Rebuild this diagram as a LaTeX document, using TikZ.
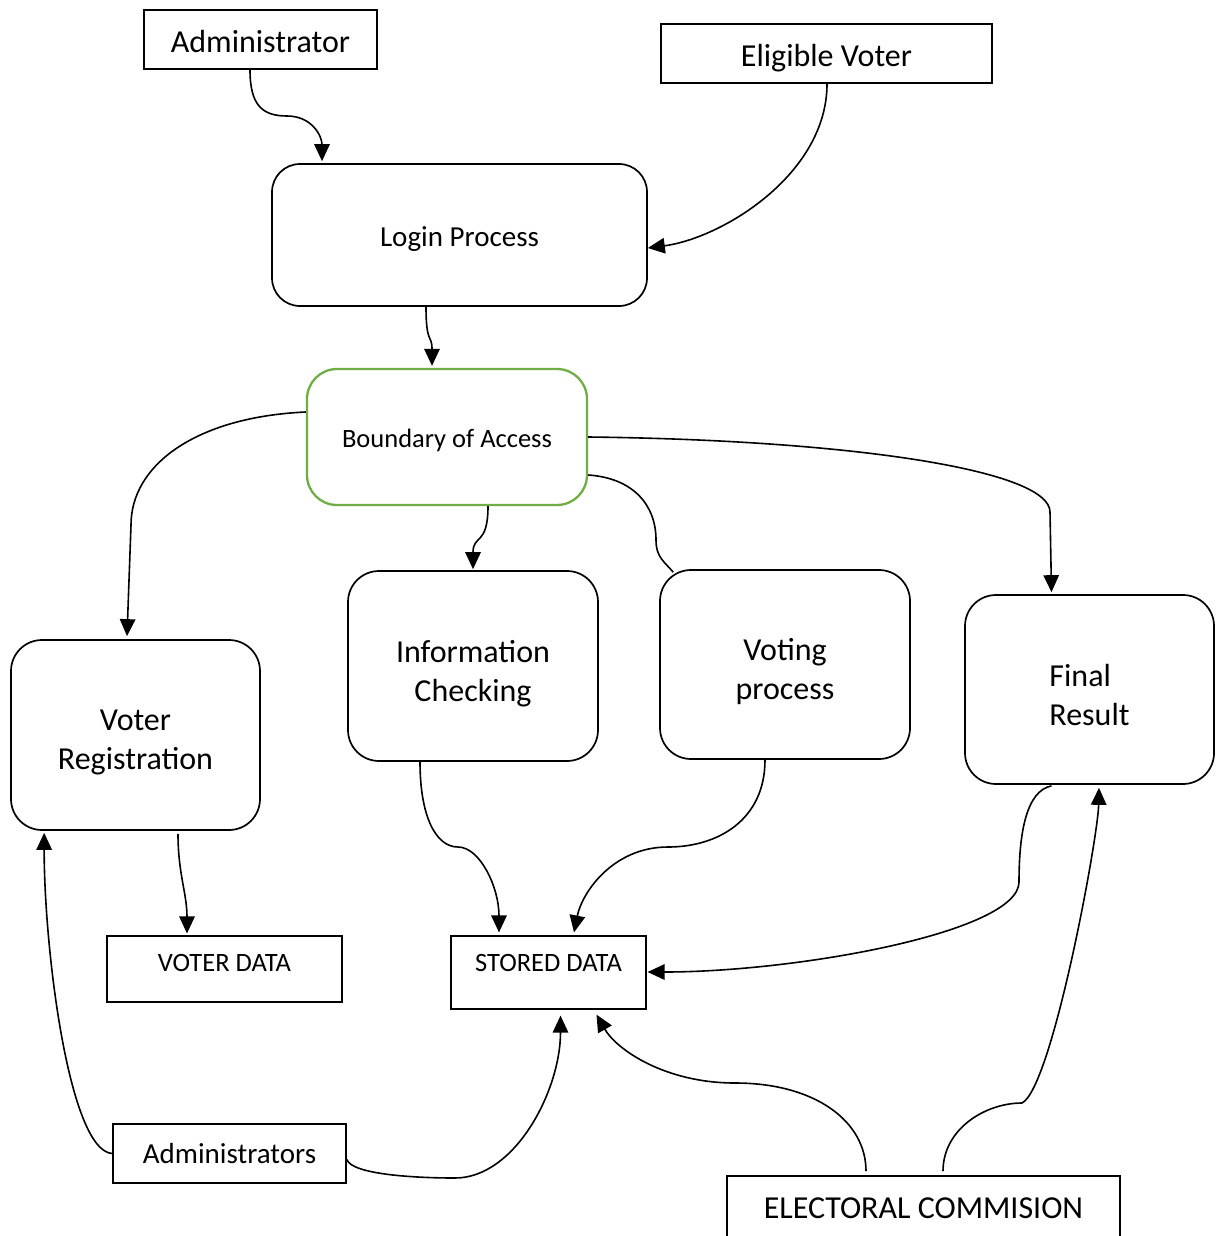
\documentclass[tikz,border=0pt]{standalone}
\usepackage{fontspec}
\setmainfont{Carlito}
\usetikzlibrary{arrows.meta,calc}

\definecolor{accessgreen}{HTML}{70AD47}

\tikzset{
  big/.style={font=\fontsize{32pt}{39pt}\selectfont},
  mid/.style={font=\fontsize{29pt}{35pt}\selectfont},
  small/.style={font=\fontsize{26.5pt}{32pt}\selectfont},
  entity/.style={draw, line width=1.7pt, inner sep=0pt},
  procbox/.style={draw, line width=1.7pt, rounded corners=31pt, inner sep=0pt},
  proctext/.style={big, align=center, inner sep=0pt},
  storebox/.style={draw, line width=1.2pt, inner sep=0pt},
  flow/.style={line width=1.6pt, -{Triangle[length=17pt,width=15.5pt]}},
  link/.style={line width=1.6pt},
}

\begin{document}
\begin{tikzpicture}[x=1pt, y=-1pt]
  \useasboundingbox (0,0) rectangle (1217,1236);
  \clip (0,0) rectangle (1217,1236);
  \fill[white] (0,0) rectangle (1217,1236);

  % external entities
  \node[entity, minimum width=233pt, minimum height=59pt,
        label={[big, inner sep=0pt, yshift=-2pt, name=admtxt]center:Administrator}] (adm) at (260.5,39.5) {};
  \node[entity, minimum width=331pt, minimum height=59pt,
        label={[big, inner sep=0pt, yshift=-5pt, name=eligtxt]center:Eligible Voter}] (elig) at (826.5,53.5) {};
  \node[entity, mid, minimum width=233pt, minimum height=59pt] (admins) at (229.5,1153.5) {Administrators};
  \node[entity, minimum width=393pt, minimum height=90pt] (ec) at (923.5,1221) {};
  \node[big] (ectxt) at (923.5,1208) {ELECTORAL COMMISION};

  % processes
  \node[draw, line width=1.7pt, rounded corners=28pt, inner sep=0pt,
        minimum width=375pt, minimum height=142pt,
        label={[mid, inner sep=0pt, yshift=-4pt, name=logintxt]center:Login Process}] (login) at (459.5,235) {};
  \node[draw=accessgreen, line width=2.3pt, rounded corners=30pt, inner sep=0pt,
        minimum width=280pt, minimum height=136pt,
        label={[small, inner sep=0pt, yshift=-3pt, name=boundtxt]center:Boundary of Access}] (bound) at (447,437) {};
  \node[procbox, minimum width=250pt, minimum height=190pt,
        label={[proctext, yshift=-8pt, name=infotxt]center:Information\\Checking}] (info) at (473,666) {};
  \node[procbox, minimum width=250pt, minimum height=189pt,
        label={[proctext, yshift=-7.5pt, name=votetxt]center:Voting\\process}] (vote) at (785,664.5) {};
  \node[procbox, minimum width=249pt, minimum height=189pt,
        label={[proctext, align=left, yshift=-5pt, name=finaltxt]center:Final\\Result}] (final) at (1089.5,689.5) {};
  \node[procbox, minimum width=249pt, minimum height=190pt,
        label={[proctext, yshift=-7pt, name=regtxt]center:Voter\\Registration}] (reg) at (135.5,735) {};

  % data stores
  \node[storebox, minimum width=235pt, minimum height=66pt] (vdata) at (224.5,969) {};
  \node[small] (vdtxt) at (224.5,963) {VOTER DATA};
  \node[storebox, minimum width=195pt, minimum height=73pt] (sdata) at (548.5,972.5) {};
  \node[small] (sdtxt) at (548.5,963) {STORED DATA};

  % flows
  \draw[flow] ($(adm.south)+(-10.5,0)$) .. controls +(0,35) and +(-25,0) .. (287,116)
              .. controls +(25,0) and +(0,-25) .. ($(login.north)+(-137.5,-2)$);
  \draw[flow] ($(elig.south)+(0.5,0)$) .. controls +(0,90) and +(75,-10) .. ($(login.east)+(0,13)$);
  \draw[flow] ($(login.south)+(-33.5,0)$) .. controls +(0,38) and +(0,-32) .. ($(bound.north)+(-15,-2)$);
  \draw[flow] ($(bound.west)+(0,-25)$) .. controls +(-110,5) and +(0,-60) .. (131,525)
              -- ($(reg.north)+(-8.5,-3)$);
  \draw[flow] ($(bound.south)+(41,0)$) .. controls +(0,40) and +(0,-35) .. ($(info.north)+(0,-1)$);
  \draw[link] ($(bound.east)+(0,38)$) .. controls +(45,3) and +(0,-35) .. (656,540)
              .. controls +(0,18) and +(-8,-10) .. ($(vote.north west)+(14,3)$);
  \draw[flow] (bound.east) .. controls (850,440) and (1050,470) .. (1050,512)
              -- ($(final.north)+(-38,-2)$);
  \draw[flow] ($(reg.south)+(42.5,3)$) .. controls +(0,40) and +(0,-40) .. ($(vdata.north)+(-37.5,-2)$);
  \draw[flow] ($(info.south)+(-53,0)$) .. controls +(0,55) and +(-22,0) .. (458,847)
              .. controls +(22,0) and +(0,-45) .. ($(sdata.north)+(-49.5,-3)$);
  \draw[flow] ($(vote.south)+(-20,0)$) .. controls +(0,60) and +(50,0) .. (668,847)
              .. controls +(-55,0) and +(8,-40) .. ($(sdata.north)+(25.5,-3)$);
  \draw[flow] ($(final.south)+(-38,1)$) .. controls +(-25,5) and +(0,-50) .. (1019,882)
              .. controls +(0,50) and +(150,0) .. ($(sdata.east)+(1,-0.5)$);
  \draw[flow] (admins.west) .. controls +(-43,-3) and +(0,118) .. ($(reg.south west)+(34,2)$);
  \draw[flow] ($(admins.east)+(0,6)$) .. controls +(5,15) and +(-40,0) .. (455,1178)
              .. controls +(60,0) and +(0,75) .. ($(sdata.south)+(12,6)$);
  \draw[flow] ($(ec.north)+(-57.5,-4)$) .. controls +(0,-50) and +(80,0) .. (735,1083)
              .. controls +(-70,0) and +(20,35) .. ($(sdata.south)+(48,5)$);
  \draw[flow] ($(ec.north)+(19.5,-4)$) .. controls +(0,-42) and +(-37,0) .. (1022,1103)
              .. controls +(30,-15) and +(-1,50) .. ($(final.south)+(9.5,3)$);
\end{tikzpicture}
\end{document}
